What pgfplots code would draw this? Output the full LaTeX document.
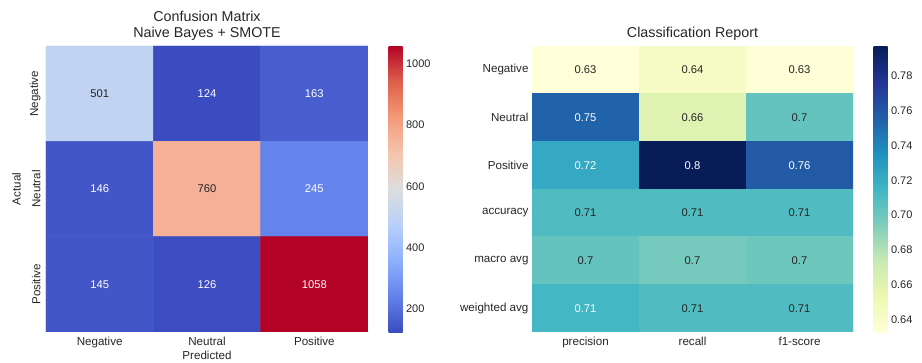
\documentclass[border=0pt]{standalone}
\usepackage{pgfplots}
\pgfplotsset{compat=1.18}
\usepackage{fontspec}
\setmainfont{Liberation Sans}
\definecolor{sbtext}{RGB}{38,38,38}
\pgfplotsset{
  hm/.style={
    scale only axis, anchor=south west, enlargelimits=false,
    axis line style={draw=none}, major tick style={draw=none}, minor tick style={draw=none},
    y dir=reverse, axis on top=false,
    tick label style={font=\fontsize{11.6}{13}\selectfont, text=sbtext},
    xticklabel style={yshift=-2pt},
    label style={font=\fontsize{11.6}{13}\selectfont, text=sbtext},
    title style={at={(0.5,1)}, anchor=south, yshift=-4pt, align=center,
      font=\fontsize{14.3}{16}\selectfont, text=sbtext},
  },
  cb/.style={
    at={(parent axis.north east)}, anchor=north west, xshift=12pt,
    scale only axis, width=14pt, height=286pt,
    axis line style={draw=none}, major tick style={draw=none},
    yticklabel style={font=\fontsize{11}{13}\selectfont, text=sbtext},
  },
  lab/.style={only marks, mark=none, nodes near coords, point meta=explicit symbolic,
    nodes near coords align=center,
    every node near coord/.append style={font=\fontsize{11.2}{13}\selectfont, text=#1}},
}
\begin{document}
\begin{tikzpicture}
\path[use as bounding box] (0pt,0pt) rectangle (922pt,363pt);
% ---------------- Confusion matrix ----------------
\begin{axis}[hm, at={(46pt,31pt)}, width=322pt, height=286pt,
  xmin=-0.5, xmax=2.5, ymin=-0.5, ymax=2.5,
  xtick={0,1,2}, xticklabels={Negative,Neutral,Positive},
  ytick={0,1,2}, yticklabels={Negative,Neutral,Positive},
  yticklabel style={xshift=-2pt, rotate=90, anchor=south},
  xlabel={Predicted}, ylabel={Actual},
  xlabel style={yshift=4pt},
  ylabel style={yshift=2pt},
  title={Confusion Matrix\\Naive Bayes + SMOTE},
  colormap={coolwarm}{rgb255=(59,76,192) rgb255=(98,130,234) rgb255=(141,176,254) rgb255=(184,208,249) rgb255=(221,221,221) rgb255=(245,196,173) rgb255=(244,154,123) rgb255=(222,96,77) rgb255=(180,4,38)},
  point meta min=124, point meta max=1058,
  colorbar,
  colorbar style={cb, ytick={200,400,600,800,1000}, yticklabels={200,400,600,800,1000}},
]
\addplot[matrix plot*, mesh/cols=3, point meta=explicit] table[meta=c] {
x y c
0 0 501
1 0 124
2 0 163
0 1 146
1 1 760
2 1 245
0 2 145
1 2 126
2 2 1058
};
\addplot[lab=white] table[meta=l] {
x y l
1 0 124
2 0 163
0 1 146
2 1 245
0 2 145
1 2 126
2 2 1058
};
\addplot[lab=sbtext] table[meta=l] {
x y l
0 0 501
1 1 760
};
\end{axis}
% ---------------- Classification report ----------------
\begin{axis}[hm, at={(532pt,31pt)}, width=321pt, height=286pt,
  xmin=-0.5, xmax=2.5, ymin=-0.5, ymax=5.5,
  xtick={0,1,2}, xticklabels={precision,recall,f1-score},
  ytick={0,1,2,3,4,5}, yticklabels={Negative,Neutral,Positive,accuracy,macro avg,weighted avg},
  title={Classification Report},
  colormap={YlGnBu}{rgb255=(255,255,217) rgb255=(237,248,177) rgb255=(199,233,180) rgb255=(127,205,187) rgb255=(65,182,196) rgb255=(29,145,192) rgb255=(34,94,168) rgb255=(37,52,148) rgb255=(8,29,88)},
  point meta min=0.633, point meta max=0.797,
  colorbar,
  colorbar style={cb, ytick={0.64,0.66,0.68,0.70,0.72,0.74,0.76,0.78},
    yticklabels={0.64,0.66,0.68,0.70,0.72,0.74,0.76,0.78}},
]
\addplot[matrix plot*, mesh/cols=3, point meta=explicit] table[meta=c] {
x y c
0 0 0.633
1 0 0.642
2 0 0.634
0 1 0.754
1 1 0.661
2 1 0.703
0 2 0.722
1 2 0.797
2 2 0.758
0 3 0.710
1 3 0.710
2 3 0.710
0 4 0.703
1 4 0.698
2 4 0.700
0 5 0.714
1 5 0.710
2 5 0.710
};
\addplot[lab=white] table[meta=l] {
x y l
0 1 0.75
0 2 0.72
1 2 0.8
2 2 0.76
0 5 0.71
};
\addplot[lab=sbtext] table[meta=l] {
x y l
0 0 0.63
1 0 0.64
2 0 0.63
1 1 0.66
2 1 0.7
0 3 0.71
1 3 0.71
2 3 0.71
0 4 0.7
1 4 0.7
2 4 0.7
1 5 0.71
2 5 0.71
};
\end{axis}
\end{tikzpicture}
\end{document}
